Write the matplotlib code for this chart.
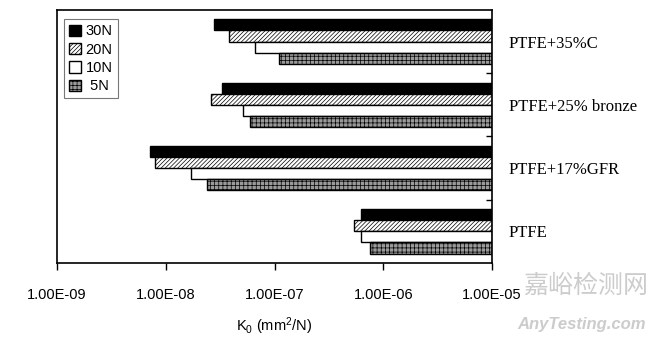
import numpy as np
import matplotlib
matplotlib.use("Agg")
import matplotlib.pyplot as plt

# materials, bottom to top as on the chart
materials = ["PTFE", "PTFE+17%GFR", "PTFE+25% bronze", "PTFE+35%C"]
loads = ["30N", "20N", "10N", " 5N"]

# wear coefficient K0 (mm^2/N), one list per load, same order as materials
k_30n = [6.3e-7, 7.2e-9, 3.3e-8, 2.8e-8]
k_20n = [5.4e-7, 8.0e-9, 2.6e-8, 3.8e-8]
k_10n = [6.3e-7, 1.7e-8, 5.1e-8, 6.6e-8]
k_5n = [7.6e-7, 2.4e-8, 5.9e-8, 1.1e-7]

x_ticks = [1e-9, 1e-8, 1e-7, 1e-6, 1e-5]
x_ticklabels = ["1.00E-09", "1.00E-08", "1.00E-07", "1.00E-06", "1.00E-05"]

plt.rcParams["font.family"] = ["Liberation Sans", "DejaVu Sans"]
plt.rcParams["hatch.linewidth"] = 0.5

fig = plt.figure(figsize=(6.49, 3.42), dpi=100)
ax = fig.add_axes([0.088, 0.231, 0.670, 0.740])

x_max = 1e-5
bar_h = 0.175
styles = [
    dict(facecolor="black", hatch=None),
    dict(facecolor="white", hatch="////////"),
    dict(facecolor="white", hatch=None),
    dict(facecolor="#9a9a9a", hatch="++++"),
]
series = [k_30n, k_20n, k_10n, k_5n]
pos = np.arange(len(materials))
for i, (vals, lab, st) in enumerate(zip(series, loads, styles)):
    vals = np.array(vals)
    y = pos + 1.5 * bar_h - i * bar_h
    ax.barh(y, x_max - vals, left=vals, height=bar_h, color=st["facecolor"],
            edgecolor="black", linewidth=1.0, hatch=st["hatch"], label=lab)

ax.set_xscale("log")
ax.set_xlim(1e-9, x_max)
ax.set_ylim(-0.5, len(materials) - 0.5)
ax.set_xticks(x_ticks)
ax.set_xticklabels(x_ticklabels, fontsize=10.5)
ax.xaxis.set_minor_locator(matplotlib.ticker.NullLocator())
ax.tick_params(axis="x", direction="out", length=5, width=1, pad=13)

ax.yaxis.tick_right()
ax.set_yticks(pos)
ax.set_yticklabels(materials, fontsize=12, family=["Liberation Serif"])
ax.set_yticks(pos[:-1] + 0.5, minor=True)
ax.tick_params(axis="y", which="major", length=0, pad=12)
ax.tick_params(axis="y", which="minor", direction="in", length=4, width=1,
               left=False, right=True)

for s in ax.spines.values():
    s.set_linewidth(1.2)

ax.set_xlabel(r"K$\mathregular{_0}$ (mm$\mathregular{^2}$/N)", fontsize=10.5,
              labelpad=10)

leg = ax.legend(loc="upper left", bbox_to_anchor=(0.01, 0.975), fontsize=10.5,
                frameon=True, fancybox=False, edgecolor="#555555",
                handlelength=0.8, handleheight=0.8, handletextpad=0.3,
                labelspacing=0.3, borderpad=0.35, borderaxespad=0.2)
leg.get_frame().set_linewidth(0.8)

# watermark
fig.text(0.999, 0.165, "嘉峪检测网", fontsize=18, color="#cccccc", ha="right",
         va="center", family=["Noto Sans CJK SC", "DejaVu Sans"])
fig.text(0.995, 0.05, "AnyTesting.com", fontsize=12, color="#cccccc",
         ha="right", va="center", style="italic", weight="bold")

fig.savefig("out.png", dpi=100)
